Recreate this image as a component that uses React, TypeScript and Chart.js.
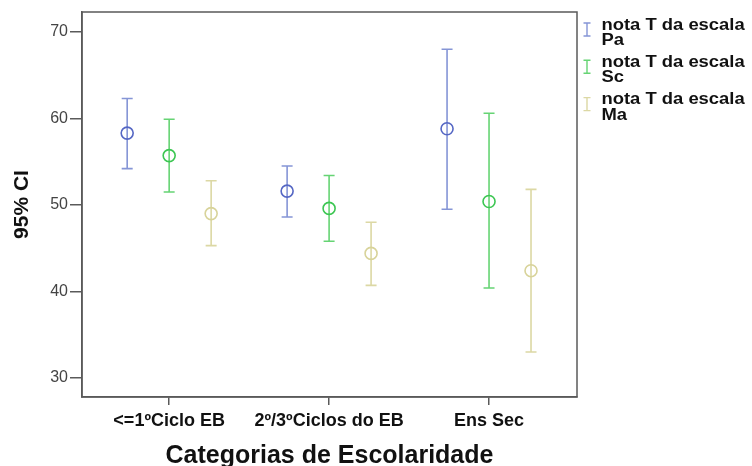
import React, { useEffect, useRef } from 'react';
import { Chart, registerables } from 'chart.js';

Chart.register(...registerables);

const categories = ['<=1ºCiclo EB', '2º/3ºCiclos do EB', 'Ens Sec'];
const seriesLabels = [
  ['nota T da escala', 'Pa'],
  ['nota T da escala', 'Sc'],
  ['nota T da escala', 'Ma'],
];
const paMean = [58.3, 51.6, 58.8];
const paLow = [54.2, 48.6, 49.5];
const paHigh = [62.3, 54.5, 68.0];
const scMean = [55.7, 49.6, 50.4];
const scLow = [51.5, 45.8, 40.4];
const scHigh = [59.9, 53.4, 60.6];
const maMean = [49.0, 44.4, 42.4];
const maLow = [45.3, 40.7, 33.0];
const maHigh = [52.8, 48.0, 51.8];
const yTicks = [30, 40, 50, 60, 70];

const offsets = [-0.2625, 0, 0.2625];
const lineColors = ['#8595d6', '#66d474', '#dcd8a4'];
const markerColors = ['#5567c4', '#3cc652', '#d8d39a'];

const series = [
  { mean: paMean, low: paLow, high: paHigh },
  { mean: scMean, low: scLow, high: scHigh },
  { mean: maMean, low: maLow, high: maHigh },
];

const FRAME = '#5a5a5a';
const FONT = '"Liberation Sans", Arial, sans-serif';

const errorBarPlugin = {
  id: 'errorBars',
  beforeDatasetsDraw(chart: any) {
    const { ctx } = chart;
    const xs = chart.scales.x;
    const ys = chart.scales.y;
    ctx.save();
    chart.data.datasets.forEach((ds: any, di: number) => {
      ctx.strokeStyle = lineColors[di];
      ctx.lineWidth = 1.6;
      ds.data.forEach((p: any, i: number) => {
        const x = xs.getPixelForValue(p.x);
        const yl = ys.getPixelForValue(ds.low[i]);
        const yh = ys.getPixelForValue(ds.high[i]);
        ctx.beginPath();
        ctx.moveTo(x, yl);
        ctx.lineTo(x, yh);
        ctx.moveTo(x - 5.5, yl);
        ctx.lineTo(x + 5.5, yl);
        ctx.moveTo(x - 5.5, yh);
        ctx.lineTo(x + 5.5, yh);
        ctx.stroke();
      });
    });
    ctx.restore();
  },
  afterDraw(chart: any) {
    const { ctx, chartArea } = chart;
    ctx.save();
    // frame
    ctx.strokeStyle = FRAME;
    ctx.lineWidth = 1.5;
    ctx.strokeRect(chartArea.left, chartArea.top, chartArea.right - chartArea.left, chartArea.bottom - chartArea.top);
    // legend
    const ix = chartArea.right + 10;
    const tx = chartArea.right + 24.5;
    seriesLabels.forEach((lines, i) => {
      const yb = 29.5 + i * 37.3;
      ctx.save();
      ctx.font = `bold 16px ${FONT}`;
      ctx.fillStyle = '#111';
      ctx.textBaseline = 'alphabetic';
      ctx.textAlign = 'left';
      ctx.translate(tx, 0);
      ctx.scale(1.15, 1);
      ctx.fillText(lines[0], 0, yb);
      ctx.fillText(lines[1], 0, yb + 15.5);
      ctx.restore();
      const iy = yb;
      ctx.strokeStyle = lineColors[i];
      ctx.lineWidth = 1.4;
      ctx.beginPath();
      ctx.moveTo(ix, iy - 6.5);
      ctx.lineTo(ix, iy + 6.5);
      ctx.moveTo(ix - 3.5, iy - 6.5);
      ctx.lineTo(ix + 3.5, iy - 6.5);
      ctx.moveTo(ix - 3.5, iy + 6.5);
      ctx.lineTo(ix + 3.5, iy + 6.5);
      ctx.stroke();
    });
    ctx.restore();
  },
};

export default function App() {
  const ref = useRef<HTMLCanvasElement | null>(null);
  useEffect(() => {
    document.body.style.margin = '0';
    const canvas = ref.current!;
    const chart = new Chart(canvas, {
      type: 'scatter',
      data: {
        datasets: series.map((s, di) => ({
          label: seriesLabels[di].join(' '),
          data: categories.map((_, i) => ({ x: i + offsets[di], y: s.mean[i] })),
          low: s.low,
          high: s.high,
          pointStyle: 'circle',
          pointRadius: 6,
          pointHoverRadius: 6,
          pointBorderWidth: 1.6,
          borderColor: markerColors[di],
          pointBorderColor: markerColors[di],
          backgroundColor: 'rgba(0,0,0,0)',
          pointBackgroundColor: 'rgba(0,0,0,0)',
          showLine: false,
        })) as any,
      },
      options: {
        animation: false,
        responsive: false,
        maintainAspectRatio: false,
        layout: { padding: { top: 12, right: 175, left: 0, bottom: 0 } },
        plugins: {
          legend: { display: false },
          tooltip: { enabled: false },
        },
        scales: {
          x: {
            type: 'linear',
            min: -0.545,
            max: 2.55,
            afterBuildTicks: (scale: any) => {
              scale.ticks = categories.map((_, i) => ({ value: i }));
            },
            afterFit: (scale: any) => {
              scale.height = 69;
            },
            ticks: {
              callback: (v: any) => categories[Math.round(Number(v))] ?? '',
              color: '#111',
              font: { family: FONT, size: 18, weight: 'bold' },
              padding: 5,
              maxRotation: 0,
              autoSkip: false,
            },
            grid: { drawOnChartArea: false, drawTicks: true, tickLength: 8, color: FRAME, lineWidth: 1.5 },
            border: { display: true, color: FRAME, width: 1.5 },
            title: {
              display: true,
              text: 'Categorias de Escolaridade',
              color: '#111',
              font: { family: FONT, size: 25, weight: 'bold', lineHeight: 0.76 },
              padding: 0,
            },
          },
          y: {
            min: 27.8,
            max: 72.3,
            afterBuildTicks: (scale: any) => {
              scale.ticks = yTicks.map((v) => ({ value: v }));
            },
            afterFit: (scale: any) => {
              scale.width = 82;
            },
            ticks: {
              color: '#444',
              font: { family: FONT, size: 16 },
              padding: 2,
            },
            grid: { drawOnChartArea: false, drawTicks: true, tickLength: 12, color: FRAME, lineWidth: 1.5 },
            border: { display: true, color: FRAME, width: 1.5 },
            title: {
              display: true,
              text: '95% CI',
              color: '#111',
              font: { family: FONT, size: 21, weight: 'bold', lineHeight: 1.2 },
              padding: { top: 10, bottom: 0 },
            },
          },
        },
      },
      plugins: [errorBarPlugin],
    });
    return () => chart.destroy();
  }, []);
  return (
    <div style={{ width: 752, height: 466, background: '#fff' }}>
      <canvas ref={ref} width={752} height={466} style={{ display: 'block', width: 752, height: 466 }} />
    </div>
  );
}
